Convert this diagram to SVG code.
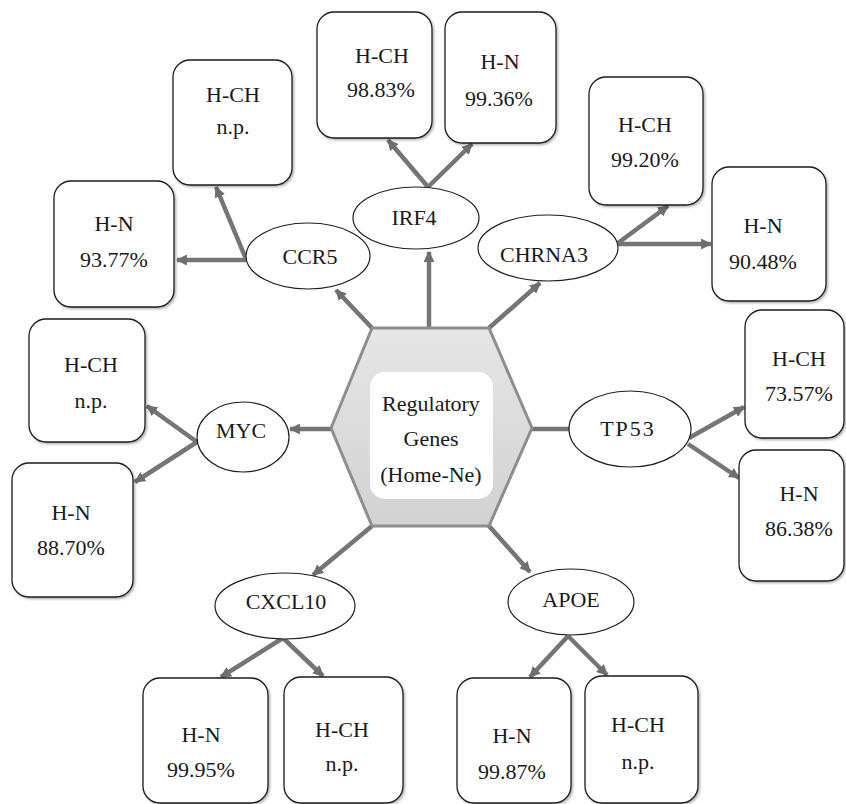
<svg xmlns="http://www.w3.org/2000/svg" width="846" height="804" viewBox="0 0 846 804" font-family="Liberation Serif, DejaVu Serif, serif">
  <defs>
    <linearGradient id="hexFill" x1="0" y1="0" x2="0" y2="1">
      <stop offset="0" stop-color="#e6e6e6"/>
      <stop offset="1" stop-color="#d2d2d2"/>
    </linearGradient>
    <filter id="soft" x="-20%" y="-20%" width="140%" height="140%">
      <feGaussianBlur in="SourceGraphic" stdDeviation="0.7"/>
    </filter>
    <filter id="boxShadow" x="-10%" y="-10%" width="125%" height="125%">
      <feDropShadow dx="1.5" dy="1.5" stdDeviation="1.3" flood-color="#000" flood-opacity="0.3"/>
    </filter>
    <marker id="arrow" viewBox="0 0 10 10" refX="9" refY="5" markerWidth="11" markerHeight="11" markerUnits="userSpaceOnUse" orient="auto">
      <path d="M0,0 L10,5 L0,10 z" fill="#6e6e6e"/>
    </marker>
  </defs>
  <style>
    .box { fill: #ffffff; stroke: #1e1e1e; stroke-width: 1.3; filter: url(#boxShadow); }
    .gene { fill: #ffffff; stroke: #1e1e1e; stroke-width: 1.2; }
    .lbl { font-size: 22px; fill: #1a1a1a; text-anchor: middle; }
    .conn line { stroke: #747474; stroke-width: 4.5; fill: none; }
    .conn .arr { marker-end: url(#arrow); }
  </style>

  <rect width="846" height="804" fill="#ffffff"/>

  <!-- connectors -->
  <g id="connectors" class="conn" filter="url(#soft)">
    <line class="arr" x1="372" y1="328" x2="336" y2="290"/>
    <line class="arr" x1="429" y1="328" x2="429" y2="252"/>
    <line class="arr" x1="489" y1="328" x2="540" y2="283"/>
    <line class="arr" x1="331" y1="429" x2="290" y2="429"/>
    <line x1="532" y1="429" x2="570" y2="429"/>
    <line class="arr" x1="372" y1="526" x2="313" y2="575"/>
    <line class="arr" x1="489" y1="526" x2="530" y2="572"/>
    <line class="arr" x1="246" y1="259" x2="216" y2="187"/>
    <line class="arr" x1="246" y1="260" x2="177" y2="260"/>
    <line class="arr" x1="428" y1="187" x2="388" y2="140"/>
    <line class="arr" x1="428" y1="187" x2="472" y2="144"/>
    <line class="arr" x1="618" y1="243" x2="668" y2="206"/>
    <line class="arr" x1="618" y1="244" x2="711" y2="244"/>
    <line class="arr" x1="197" y1="442" x2="147" y2="406"/>
    <line class="arr" x1="197" y1="442" x2="135" y2="482"/>
    <line class="arr" x1="689" y1="438" x2="744" y2="407"/>
    <line class="arr" x1="688" y1="444" x2="739" y2="478"/>
    <line class="arr" x1="283" y1="638" x2="221" y2="677"/>
    <line class="arr" x1="283" y1="638" x2="323" y2="676"/>
    <line class="arr" x1="568" y1="636" x2="530" y2="677"/>
    <line class="arr" x1="568" y1="636" x2="607" y2="675"/>
  </g>

  <!-- central hub -->
  <g id="hub">
    <polygon points="372,328 489,328 532,428 489,526 372,526 331,428" fill="url(#hexFill)" stroke="#8e8e8e" stroke-width="3" stroke-linejoin="round"/>
    <rect x="370" y="372" width="123" height="127" rx="15" fill="#ffffff"/>
    <text class="lbl" x="431" y="411">Regulatory</text>
    <text class="lbl" x="431" y="446">Genes</text>
    <text class="lbl" x="431" y="482">(Home-Ne)</text>
  </g>

  <!-- gene nodes -->
  <g id="gene-ccr5"><ellipse class="gene" cx="308" cy="256" rx="62" ry="33"/><text class="lbl" x="310" y="264">CCR5</text></g>
  <g id="gene-irf4"><ellipse class="gene" cx="416" cy="218" rx="63" ry="31"/><text class="lbl" x="414" y="225">IRF4</text></g>
  <g id="gene-chrna3"><ellipse class="gene" cx="548" cy="248" rx="70" ry="33"/><text class="lbl" x="544" y="262">CHRNA3</text></g>
  <g id="gene-myc"><ellipse class="gene" cx="243" cy="437" rx="46" ry="35"/><text class="lbl" x="241" y="438">MYC</text></g>
  <g id="gene-tp53"><ellipse class="gene" cx="630" cy="429" rx="61" ry="38"/><text class="lbl" x="628" y="436" letter-spacing="2">TP53</text></g>
  <g id="gene-cxcl10"><ellipse class="gene" cx="285" cy="606" rx="70" ry="33"/><text class="lbl" x="286" y="609">CXCL10</text></g>
  <g id="gene-apoe"><ellipse class="gene" cx="571" cy="602" rx="63" ry="33"/><text class="lbl" x="571" y="607">APOE</text></g>

  <!-- identity boxes -->
  <g id="ccr5-hch"><rect class="box" x="173" y="60" width="119" height="125" rx="17"/><text class="lbl" x="233" y="102">H-CH</text><text class="lbl" x="233" y="134">n.p.</text></g>
  <g id="ccr5-hn"><rect class="box" x="54" y="181" width="120" height="126" rx="17"/><text class="lbl" x="114" y="231">H-N</text><text class="lbl" x="114" y="267">93.77%</text></g>
  <g id="irf4-hch"><rect class="box" x="317" y="12" width="115" height="126" rx="17"/><text class="lbl" x="382" y="63">H-CH</text><text class="lbl" x="381" y="97">98.83%</text></g>
  <g id="irf4-hn"><rect class="box" x="445" y="12" width="111" height="131" rx="17"/><text class="lbl" x="500" y="69">H-N</text><text class="lbl" x="499" y="106">99.36%</text></g>
  <g id="chrna3-hch"><rect class="box" x="589" y="77" width="114" height="128" rx="17"/><text class="lbl" x="645" y="132">H-CH</text><text class="lbl" x="645" y="167">99.20%</text></g>
  <g id="chrna3-hn"><rect class="box" x="712" y="167" width="114" height="134" rx="17"/><text class="lbl" x="763" y="233">H-N</text><text class="lbl" x="763" y="269">90.48%</text></g>
  <g id="myc-hch"><rect class="box" x="29" y="319" width="116" height="123" rx="17"/><text class="lbl" x="91" y="372">H-CH</text><text class="lbl" x="91" y="408">n.p.</text></g>
  <g id="myc-hn"><rect class="box" x="12" y="463" width="121" height="134" rx="17"/><text class="lbl" x="71" y="520">H-N</text><text class="lbl" x="71" y="555">88.70%</text></g>
  <g id="tp53-hch"><rect class="box" x="745" y="310" width="99" height="128" rx="17"/><text class="lbl" x="799" y="366">H-CH</text><text class="lbl" x="799" y="401">73.57%</text></g>
  <g id="tp53-hn"><rect class="box" x="739" y="450" width="105" height="131" rx="17"/><text class="lbl" x="799" y="501">H-N</text><text class="lbl" x="799" y="536">86.38%</text></g>
  <g id="cxcl10-hn"><rect class="box" x="143" y="678" width="125" height="125" rx="17"/><text class="lbl" x="201" y="742">H-N</text><text class="lbl" x="201" y="777">99.95%</text></g>
  <g id="cxcl10-hch"><rect class="box" x="284" y="677" width="119" height="126" rx="17"/><text class="lbl" x="342" y="737">H-CH</text><text class="lbl" x="342" y="771">n.p.</text></g>
  <g id="apoe-hn"><rect class="box" x="457" y="678" width="114" height="125" rx="17"/><text class="lbl" x="512" y="743">H-N</text><text class="lbl" x="512" y="779">99.87%</text></g>
  <g id="apoe-hch"><rect class="box" x="585" y="676" width="113" height="127" rx="17"/><text class="lbl" x="638" y="732">H-CH</text><text class="lbl" x="638" y="769">n.p.</text></g>
</svg>
